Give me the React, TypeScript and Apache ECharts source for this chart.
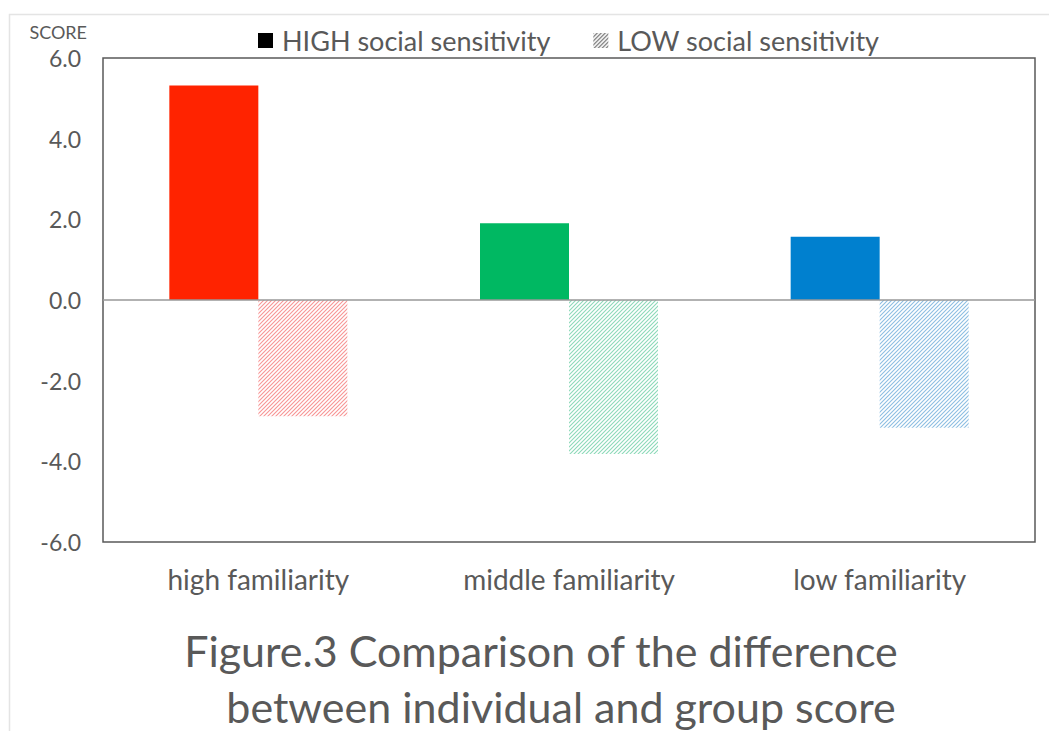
import React, { useEffect, useRef } from "react";
import * as echarts from "echarts";

const categories = ["high familiarity", "middle familiarity", "low familiarity"];
const highValues = [5.32, 1.9, 1.57];
const lowValues = [-2.88, -3.82, -3.17];
const solidColors = ["#FF2300", "#00B862", "#0080CF"];
const hatchColors = ["rgba(240,60,60,0.55)", "rgba(0,170,100,0.45)", "rgba(0,110,190,0.45)"];
const seriesNames = ["HIGH social sensitivity", "LOW social sensitivity"];
const titleLines = ["Figure.3 Comparison of the difference", "between individual and group score"];

const FONT = "Lato";
const TEXT = "#595959";

function hatch(stroke: string) {
  const c = document.createElement("canvas");
  c.width = 4;
  c.height = 4;
  const ctx = c.getContext("2d")!;
  ctx.fillStyle = "#ffffff";
  ctx.fillRect(0, 0, 4, 4);
  ctx.strokeStyle = stroke;
  ctx.lineWidth = 1.1;
  ctx.beginPath();
  ctx.moveTo(-1, 5);
  ctx.lineTo(5, -1);
  ctx.moveTo(-1, 1);
  ctx.lineTo(1, -1);
  ctx.moveTo(3, 5);
  ctx.lineTo(5, 3);
  ctx.stroke();
  return { image: c, repeat: "repeat" } as any;
}

export default function App() {
  const ref = useRef<HTMLDivElement>(null);
  useEffect(() => {
    if (!ref.current) return;
    const chart = echarts.init(ref.current, undefined, { renderer: "svg" });
    const option: any = {
      animation: false,
      backgroundColor: "#ffffff",
      textStyle: { fontFamily: FONT, color: TEXT },
      graphic: [
        {
          type: "rect",
          shape: { x: 9.5, y: 14.5, width: 1200, height: 900 },
          style: { fill: "none", stroke: "#e4e4e4", lineWidth: 1.5 },
          silent: true,
        },
      ],
      title: [
        {
          text: titleLines[0],
          left: 536,
          textAlign: "center",
          top: 624,
          textStyle: { fontFamily: FONT, fontSize: 43, fontWeight: "normal", color: TEXT },
        },
        {
          text: titleLines[1],
          left: 556,
          textAlign: "center",
          top: 680,
          textStyle: { fontFamily: FONT, fontSize: 43, fontWeight: "normal", color: TEXT },
        },
      ],
      legend: {
        left: 253,
        top: 22,
        itemWidth: 15,
        itemHeight: 15,
        itemGap: 43,
        textStyle: { fontFamily: FONT, fontSize: 27, color: TEXT, padding: [0, 0, 0, 4] },
        data: [
          { name: seriesNames[0], icon: "rect", itemStyle: { color: "#000000" } },
          { name: seriesNames[1], icon: "rect", itemStyle: { color: hatch("rgba(60,60,60,0.8)") } },
        ],
      },
      grid: {
        left: 103,
        top: 58,
        right: 14,
        bottom: 189,
        show: true,
        borderColor: "#595959",
        borderWidth: 1.5,
        backgroundColor: "transparent",
      },
      xAxis: {
        type: "category",
        data: categories,
        axisLine: { show: false, onZero: false },
        axisTick: { show: false },
        axisLabel: { margin: 23, fontFamily: FONT, fontSize: 28, color: TEXT },
      },
      yAxis: {
        type: "value",
        min: -6,
        max: 6,
        interval: 2,
        name: "SCORE",
        nameLocation: "end",
        nameGap: 17,
        nameTextStyle: { fontFamily: FONT, fontSize: 18, color: TEXT, align: "right", padding: [0, 16, 0, 0] },
        axisLine: { show: false },
        axisTick: { show: false },
        splitLine: { show: false },
        axisLabel: {
          margin: 22,
          fontFamily: FONT,
          fontSize: 23,
          color: TEXT,
          formatter: (v: number) => v.toFixed(1),
        },
      },
      series: [
        {
          name: seriesNames[0],
          type: "bar",
          barWidth: 89,
          barGap: "0%",
          itemStyle: { color: "#000000" },
          data: highValues.map((v, i) => ({ value: v, itemStyle: { color: solidColors[i] } })),
          markLine: {
            silent: true,
            symbol: "none",
            label: { show: false },
            lineStyle: { color: "#999999", width: 1.5, type: "solid" },
            data: [{ yAxis: 0 }],
          },
        },
        {
          name: seriesNames[1],
          type: "bar",
          barWidth: 89,
          barGap: "0%",
          itemStyle: { color: hatch("rgba(60,60,60,0.8)") },
          data: lowValues.map((v, i) => ({ value: v, itemStyle: { color: hatch(hatchColors[i]) } })),
        },
      ],
    };
    chart.setOption(option);
    return () => chart.dispose();
  }, []);
  return (
    <div
      ref={ref}
      style={{ position: "absolute", left: 0, top: 0, width: 1049, height: 731 }}
    />
  );
}
